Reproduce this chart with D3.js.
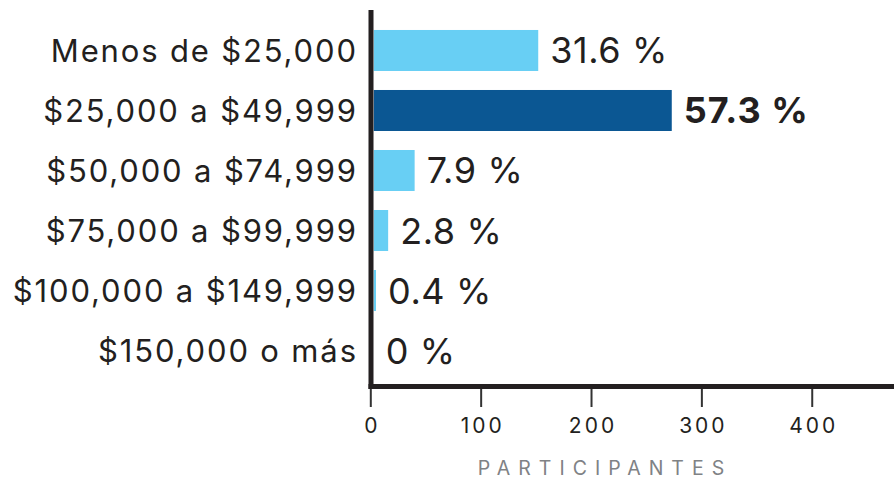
<!DOCTYPE html>
<html>
<head>
<meta charset="utf-8">
<script src="https://cdn.jsdelivr.net/npm/d3@7"></script>
<style>
  html, body { margin: 0; padding: 0; background: #ffffff; }
  svg { display: block; font-family: Inter, "Open Sans", sans-serif; }
</style>
</head>
<body>
<svg id="chart" width="894" height="493"></svg>
<script>
// Household income brackets of participants
const categories = [
  "Menos de $25,000",
  "$25,000 a $49,999",
  "$50,000 a $74,999",
  "$75,000 a $99,999",
  "$100,000 a $149,999",
  "$150,000 o más"
];
const participants = [149, 270, 37, 13, 2, 0];
const highlighted = ["$25,000 a $49,999"];
const xTicks = [0, 100, 200, 300, 400];
const xTitle = "PARTICIPANTES";

const total = d3.sum(participants);
const rows = categories.map((c, i) => ({
  category: c,
  value: participants[i],
  pct: participants[i] / total * 100
}));

const fmtPct = p => (p === 0 ? "0" : p.toFixed(1)) + " %";

const W = 894, H = 493;
const ink = "#231f20";
const svg = d3.select("#chart");

const x = d3.scaleLinear().domain([0, 475]).range([370.3, 894.5]);
const y = d3.scaleBand()
  .domain(categories)
  .range([20.5, 380.5])
  .paddingInner(0.3167)
  .paddingOuter(0.158);

const axisW = 5;
const barStart = x(0) + axisW / 2 + 1;
const isHi = d => highlighted.includes(d.category);

// bars
svg.append("g").selectAll("rect")
  .data(rows)
  .join("rect")
  .attr("x", barStart)
  .attr("y", d => y(d.category))
  .attr("width", d => x(d.value) - x(0))
  .attr("height", y.bandwidth())
  .attr("fill", d => isHi(d) ? "#0b5793" : "#68cff4");

// value labels
svg.append("g").selectAll("text")
  .data(rows)
  .join("text")
  .attr("x", d => barStart + x(d.value) - x(0) + 12)
  .attr("y", d => y(d.category) + y.bandwidth() / 2 + 13)
  .attr("fill", ink)
  .attr("font-size", 36)
  .attr("letter-spacing", d => isHi(d) ? 1 : 0.6)
  .attr("font-weight", d => isHi(d) ? 700 : 400)
  .text(d => fmtPct(d.pct));

// category labels
const catSpacing = 1.85;
svg.append("g").selectAll("text")
  .data(rows)
  .join("text")
  .attr("x", 356 + catSpacing)
  .attr("y", d => y(d.category) + y.bandwidth() / 2 + 11.5)
  .attr("text-anchor", "end")
  .attr("fill", ink)
  .attr("font-size", 31)
  .attr("letter-spacing", catSpacing)
  .text(d => d.category);

// x axis ticks and labels
const axisY = 386.5;
const tickSpacing = 3;
const xAxis = d3.axisBottom(x).tickValues(xTicks).tickSize(18).tickFormat(d3.format("d"));
const gx = svg.append("g")
  .attr("transform", `translate(0,${axisY + axisW / 2})`)
  .call(xAxis);
gx.select(".domain").remove();
gx.selectAll(".tick line").attr("stroke", "#333").attr("stroke-width", 2);
gx.selectAll(".tick text")
  .attr("x", tickSpacing / 2)
  .attr("y", 44).attr("dy", 0)
  .attr("fill", ink)
  .attr("font-size", 21)
  .attr("letter-spacing", tickSpacing)
  .attr("font-family", "Inter, sans-serif");

// axis lines
svg.append("line")
  .attr("x1", x(0) + 0.7).attr("x2", x(0) + 0.7)
  .attr("y1", 10).attr("y2", axisY + axisW / 2)
  .attr("stroke", ink).attr("stroke-width", axisW);
svg.append("line")
  .attr("x1", x(0) - 1.8).attr("x2", W)
  .attr("y1", axisY).attr("y2", axisY)
  .attr("stroke", ink).attr("stroke-width", axisW);

// axis title
const titleSpacing = 8;
svg.append("text")
  .attr("x", 601 + titleSpacing / 2)
  .attr("y", 475)
  .attr("text-anchor", "middle")
  .attr("fill", "#808285")
  .attr("font-size", 19.5)
  .attr("letter-spacing", titleSpacing)
  .text(xTitle);
</script>
</body>
</html>
